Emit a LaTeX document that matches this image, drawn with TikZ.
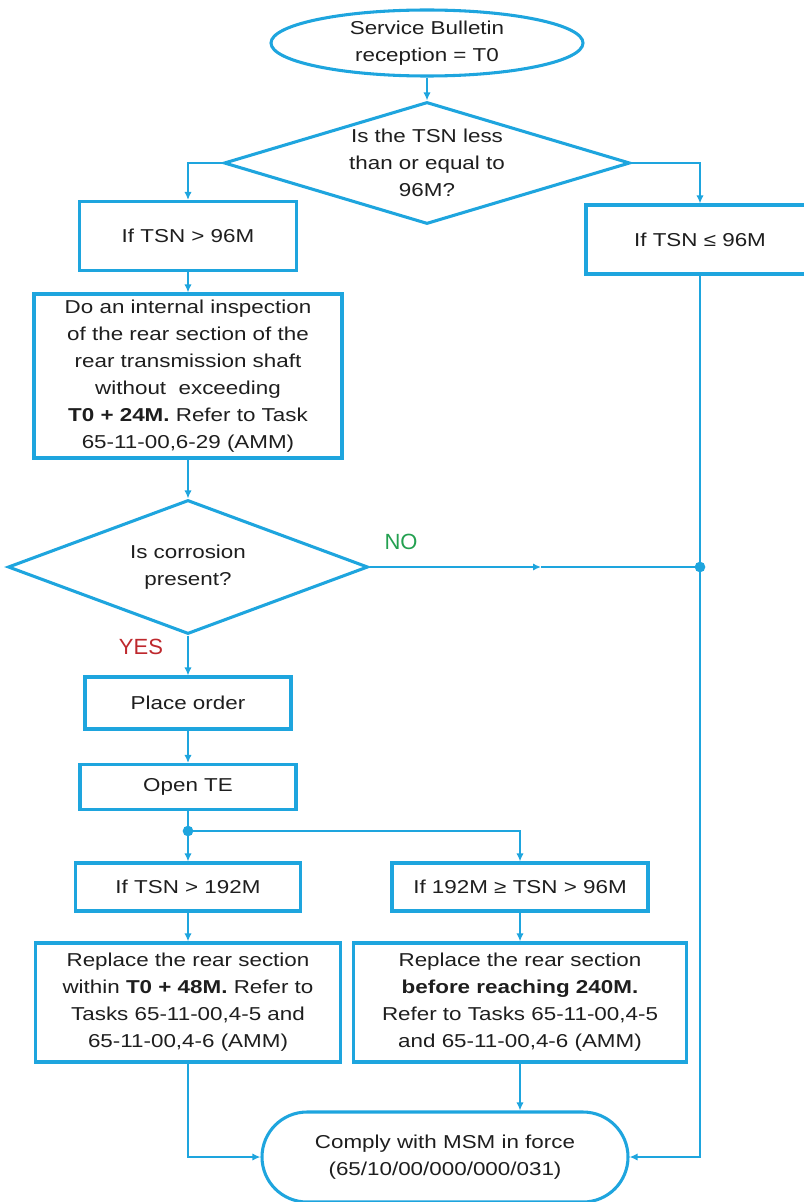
\documentclass[tikz,border=0pt]{standalone}
\usepackage{fontspec}
\setmainfont{Liberation Sans}[FakeStretch=1.2]
\newfontfamily\lblfont{Liberation Sans}
\usetikzlibrary{arrows.meta,positioning,shapes.geometric,shapes.misc}
\definecolor{sbblue}{RGB}{30,165,222}
\definecolor{yesred}{RGB}{190,40,45}
\definecolor{nogreen}{RGB}{35,160,80}
\definecolor{ink}{RGB}{30,30,30}

\begin{document}
\begin{tikzpicture}[x=0.75pt,y=-0.75pt,>={Latex[length=6pt,width=5.5pt]},
    every node/.style={font=\fontsize{14}{20.25}\selectfont,text=ink,align=center,inner sep=0pt},
    box/.style={rectangle,draw=sbblue,line width=2.3pt},
    decision/.style={diamond,draw=sbblue,line width=2.3pt},
    terminal/.style={draw=sbblue,line width=2.3pt},
    link/.style={draw=sbblue,line width=1.2pt},
    answer/.style={font=\lblfont\fontsize{16.5}{18}\selectfont}]
  \useasboundingbox (0,0) rectangle (803,1202);

                  \node[terminal,ellipse,minimum width=234pt,minimum height=49.5pt] (sb) at (427,43)
                        {Service Bulletin\\reception = T0};
                  \node[decision,minimum width=304.5pt,minimum height=91.5pt,shape aspect=3.3]
                        (q1) [node distance=90pt,below of=sb] {Is the TSN less\\than or equal to\\96M?};
                  \node[box,minimum width=162.75pt,minimum height=51.75pt] (gt96) at (188,236) {If TSN > 96M};
                  \node[box,minimum width=171pt,minimum height=51.75pt] (le96) at (700,239.5) {If TSN ≤ 96M};
                  \node[box,minimum width=231pt,minimum height=123pt]
                        (insp) [node distance=105pt,below of=gt96]
                        {Do an internal inspection\\of the rear section of the\\rear transmission shaft\\without~ exceeding\\
                         \textbf{T0 + 24M.} Refer to Task\\65-11-00,6-29 (AMM)};
                  \node[decision,minimum width=270pt,minimum height=100.5pt,shape aspect=2.7]
                        (q2) [node distance=143.25pt,below of=insp] {Is corrosion\\present?};
                  \node[box,minimum width=154.5pt,minimum height=39pt] (order) [node distance=102pt,below of=q2] {Place order};
                  \node[box,minimum width=162pt,minimum height=33.75pt] (opente) [node distance=63pt,below of=order] {Open TE};
                  \node[box,minimum width=168.75pt,minimum height=36pt] (gt192) [node distance=75pt,below of=opente] {If TSN > 192M};
                  \node[box,minimum width=192pt,minimum height=36pt] (mid192) [node distance=249pt,right of=gt192] {If 192M ≥ TSN > 96M};
                  \node[box,minimum width=228.75pt,minimum height=89.25pt]
                        (rep1) [node distance=86.6pt,below of=gt192]
                        {Replace the rear section\\within \textbf{T0 + 48M.} Refer to\\Tasks 65-11-00,4-5 and\\65-11-00,4-6 (AMM)};
                  \node[box,minimum width=249.75pt,minimum height=89.25pt]
                        (rep2) [node distance=86.6pt,below of=mid192]
                        {Replace the rear section\\\textbf{before reaching 240M.}\\Refer to Tasks 65-11-00,4-5\\and 65-11-00,4-6 (AMM)};
                  \node[terminal,rounded rectangle,minimum width=274.5pt,minimum height=67.5pt] (end) at (445,1157)
                        {Comply with MSM in force\\(65/10/00/000/000/031)};

                  \node[answer,text=nogreen] (no) at (401,542) {NO};
                  \node[answer,text=yesred] (yes) at (141,647) {YES};

                  \coordinate (noarr) at (541,567);
                  \coordinate (nojoin) at (700,567);
                  \coordinate (split) at (188,831);

                      \draw[link,->] (sb) -- (q1);
                      \draw[link,->] (q1.west) -| (gt96.north);
                      \draw[link,->] (q1.east) -| (le96.north);
                      \draw[link,->] (gt96) -- (insp);
                      \draw[link,->] (insp) -- (q2);
                      \draw[link,->] (q2.east) -- (noarr);
                      \draw[link] (noarr) -- (nojoin);
                      \draw[link,->] (le96.south) |- (end.east);
                      \draw[link,->] (q2) -- (order);
                      \draw[link,->] (order) -- (opente);
                      \draw[link] (opente) -- (split);
                      \draw[link,->] (split) -- (gt192);
                      \draw[link,->] (split) -| (mid192.north);
                      \draw[link,->] (gt192) -- (rep1);
                      \draw[link,->] (mid192) -- (rep2);
                      \draw[link,->] (rep1.south) |- (end.west);
                      \draw[link,->] (rep2.south) -- (rep2.south |- end.north);
                      \fill[sbblue] (nojoin) circle (4pt)
                                    (split) circle (4pt);
\end{tikzpicture}
\end{document}
